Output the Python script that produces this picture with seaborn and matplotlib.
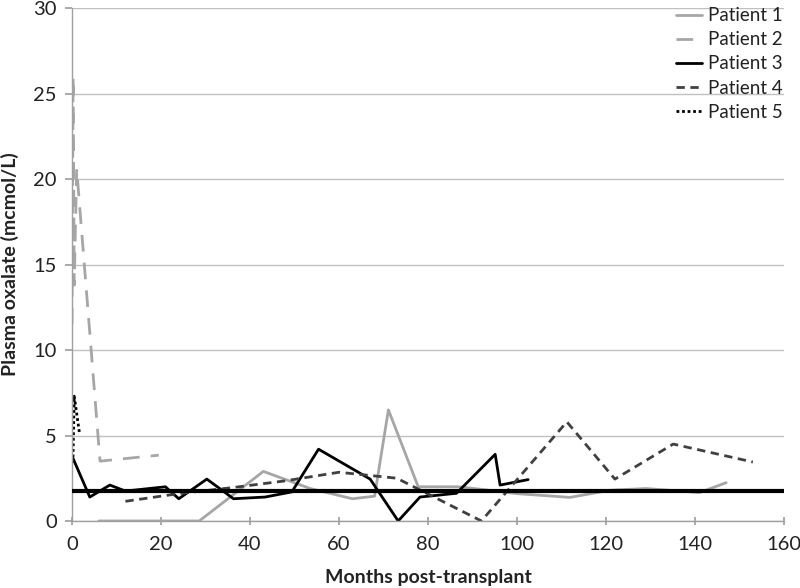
import numpy as np
import pandas as pd
import seaborn as sns
import matplotlib
matplotlib.use("Agg")
import matplotlib.pyplot as plt

# ---- data ----
p1_x = [6, 28.6, 43, 53.5, 63, 68, 71.1, 77.8, 86.8, 92, 100, 111.9, 121, 129, 141, 147]
p1_y = [0, 0, 2.9, 1.9, 1.3, 1.45, 6.5, 2.0, 2.0, 1.85, 1.6, 1.38, 1.8, 1.9, 1.66, 2.24]

p2_x = [0, 0.25, 0.5, 1.05, 6.3, 19.5]
p2_y = [11.5, 26.0, 13.8, 20.6, 3.5, 3.85]

p3_x = [0, 4, 8.5, 12, 21, 24, 30.3, 36.3, 43.4, 49.4, 55.4, 67, 73.3, 78.2, 86.4, 95.1, 96.2, 102.5]
p3_y = [3.8, 1.4, 2.1, 1.75, 2.0, 1.3, 2.45, 1.3, 1.4, 1.7, 4.2, 2.45, 0, 1.4, 1.62, 3.9, 2.1, 2.42]

p4_x = [12, 24, 36, 48, 60, 73, 92, 111.2, 122, 135.1, 153]
p4_y = [1.15, 1.6, 1.95, 2.35, 2.85, 2.5, 0, 5.8, 2.45, 4.5, 3.45]

p5_x = [0.2, 0.5, 1.7]
p5_y = [3.4, 7.3, 5.1]

reference_level = 1.78

patients = ["Patient 1", "Patient 2", "Patient 3", "Patient 4", "Patient 5"]
xs = [p1_x, p2_x, p3_x, p4_x, p5_x]
ys = [p1_y, p2_y, p3_y, p4_y, p5_y]

x_ticks = [0, 20, 40, 60, 80, 100, 120, 140, 160]
y_ticks = [0, 5, 10, 15, 20, 25, 30]

# ---- styles ----
colors = ["#a6a6a6", "#a6a6a6", "#000000", "#404040", "#000000"]
dashes = [(None, None), (6, 4), (None, None), (3, 2), (1, 1)]
widths = [2.0, 2.0, 2.0, 2.0, 2.0]

sns.set_theme(style="white")
plt.rcParams["font.family"] = ["Lato", "DejaVu Sans"]

fig = plt.figure(figsize=(8, 5.88), dpi=100)
ax = fig.add_axes([0.09, 0.114, 0.89, 0.872])

for name, x, y, c, d, w in zip(patients, xs, ys, colors, dashes, widths):
    df = pd.DataFrame({"x": x, "y": y})
    sns.lineplot(data=df, x="x", y="y", ax=ax, color=c, linewidth=w,
                 sort=False, estimator=None, label=name)
    ln = ax.lines[-1]
    if d[0] is not None:
        ln.set_dashes(d)

ax.axhline(reference_level, color="black", linewidth=3, zorder=3)

ax.set_xlim(0, 160)
ax.set_ylim(0, 30)
ax.set_xticks(x_ticks)
ax.set_yticks(y_ticks)
ax.tick_params(axis="x", labelsize=14.5, labelcolor="#222222", length=6, direction="inout",
               color="#a0a0a0", pad=8, bottom=True)
ax.tick_params(axis="y", labelsize=14.5, labelcolor="#222222", length=5, direction="out",
               color="#a0a0a0", pad=6, left=True)
ax.yaxis.grid(True, color="#c0c0c0", linewidth=1)
ax.xaxis.grid(False)
for s in ["top", "right"]:
    ax.spines[s].set_visible(False)
for s in ["left", "bottom"]:
    ax.spines[s].set_color("#a0a0a0")
    ax.spines[s].set_linewidth(1)

ax.set_xlabel("Months post-transplant", fontsize=14, fontweight="bold", color="#222222",
              labelpad=11)
ax.set_ylabel("Plasma oxalate (mcmol/L)", fontsize=14, fontweight="bold", color="#222222",
              labelpad=10)

handles, labels = ax.get_legend_handles_labels()
leg = ax.legend(handles[:5], labels[:5], loc="upper right", bbox_to_anchor=(1.022, 1.035),
                frameon=False, fontsize=13.5, handlelength=1.4, handletextpad=0.3,
                labelspacing=0.38)
for t in leg.get_texts():
    t.set_color("#222222")

fig.savefig("out.png", dpi=100)
